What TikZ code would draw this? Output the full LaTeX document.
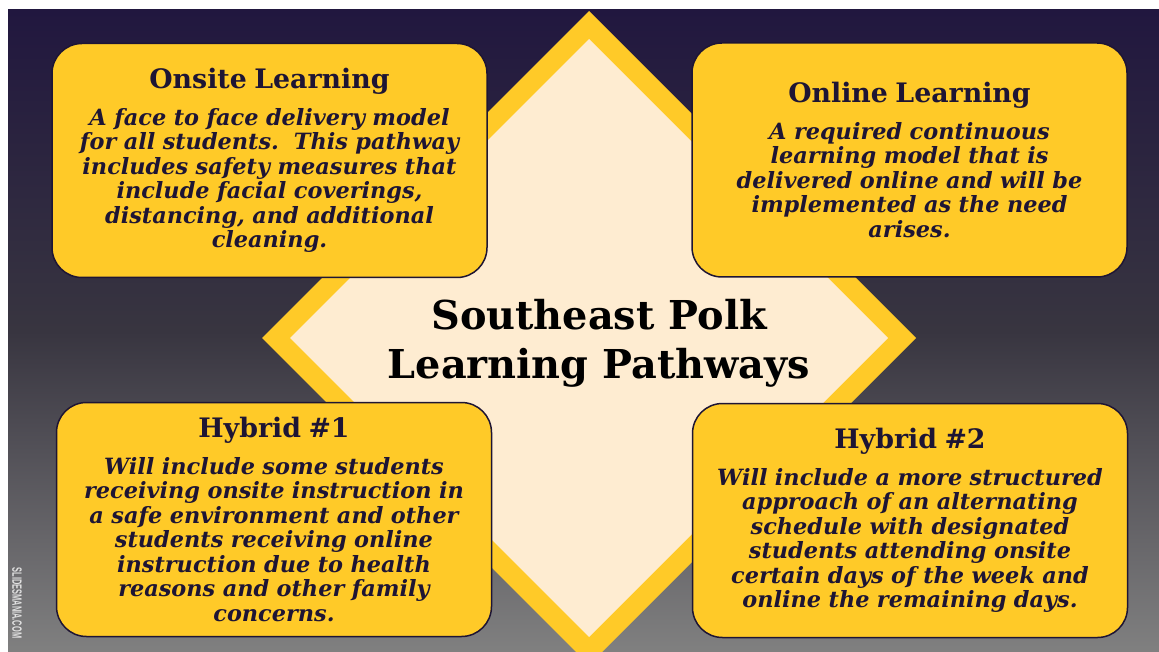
\documentclass[tikz,border=0pt]{standalone}
\usepackage{fontspec}
\setmainfont{DejaVu Serif}
\newfontfamily\markfont{Liberation Sans}

\tikzset{
  pathbox/.style={draw=inkblue, line width=1.5pt, fill=gold, rounded corners=30pt,
    minimum width=435, minimum height=234, text width=430, align=center,
    inner sep=0pt, text=inkblue, font={\bfseries\itshape\fontsize{22.4}{24.5}\selectfont}},
  pathtitle/.style={align=center, text=black, font={\bfseries\fontsize{39.8}{49}\selectfont}}
}
\newcommand{\boxhead}[1]{{\upshape\fontsize{26.8}{24.5}\selectfont #1}\\[12pt]}

\begin{document}
\begin{tikzpicture}[x=1pt, y=-1pt]

\definecolor{gold}{RGB}{255,202,40}
\definecolor{cream}{RGB}{254,236,209}
\definecolor{inkblue}{RGB}{30,21,52}
\definecolor{bgtop}{RGB}{33,23,63}
\definecolor{bgmid}{RGB}{56,53,64}
\definecolor{bgbot}{RGB}{128,128,128}
\definecolor{markgray}{RGB}{225,225,225}
\def\outer{327}
\def\inner{299}
\coordinate (center) at (589, 338);

\fill[white] (0,0) rectangle (1159,652);
\clip (8,10) rectangle (1159,652);
\shade[top color=bgtop, bottom color=bgbot, middle color=bgmid] (8,10) rectangle (1159,652);

\fill[gold] (center) ++(0,-\outer) -- ++(\outer,\outer) -- ++(-\outer,\outer) -- ++(-\outer,-\outer) -- cycle;
\fill[cream] (center) ++(0,-\inner) -- ++(\inner,\inner) -- ++(-\inner,\inner) -- ++(-\inner,-\inner) -- cycle;

\node[pathtitle] (title) at (599,343) {Southeast Polk\\Learning Pathways};

\node[pathbox] (onsite) at (269.5,160.5) {\boxhead{Onsite Learning}A face to face delivery model\\for all students.\ \ This pathway\\includes safety measures that\\include facial coverings,\\distancing, and additional\\cleaning.};
\node[pathbox] (online) at (909.5,160) {\boxhead{Online Learning}A required continuous\\learning model that is\\delivered online and will be\\implemented as the need\\arises.};
\node[pathbox] (hybridone) at (274,519.5) {\boxhead{Hybrid \#1}Will include some students\\receiving onsite instruction in\\a safe environment and other\\students receiving online\\instruction due to health\\reasons and other family\\concerns.};
\node[pathbox] (hybridtwo) at (910,520.5) {\boxhead{Hybrid \#2}Will include a more structured\\approach of an alternating\\schedule with designated\\students attending onsite\\certain days of the week and\\online the remaining days.};

\node[rotate=-90, xscale=0.55, text=markgray, font={\markfont\bfseries\fontsize{13.5}{13.5}\selectfont}] (mark) at (17,603) {SLIDESMANIA.COM};

\end{tikzpicture}
\end{document}
